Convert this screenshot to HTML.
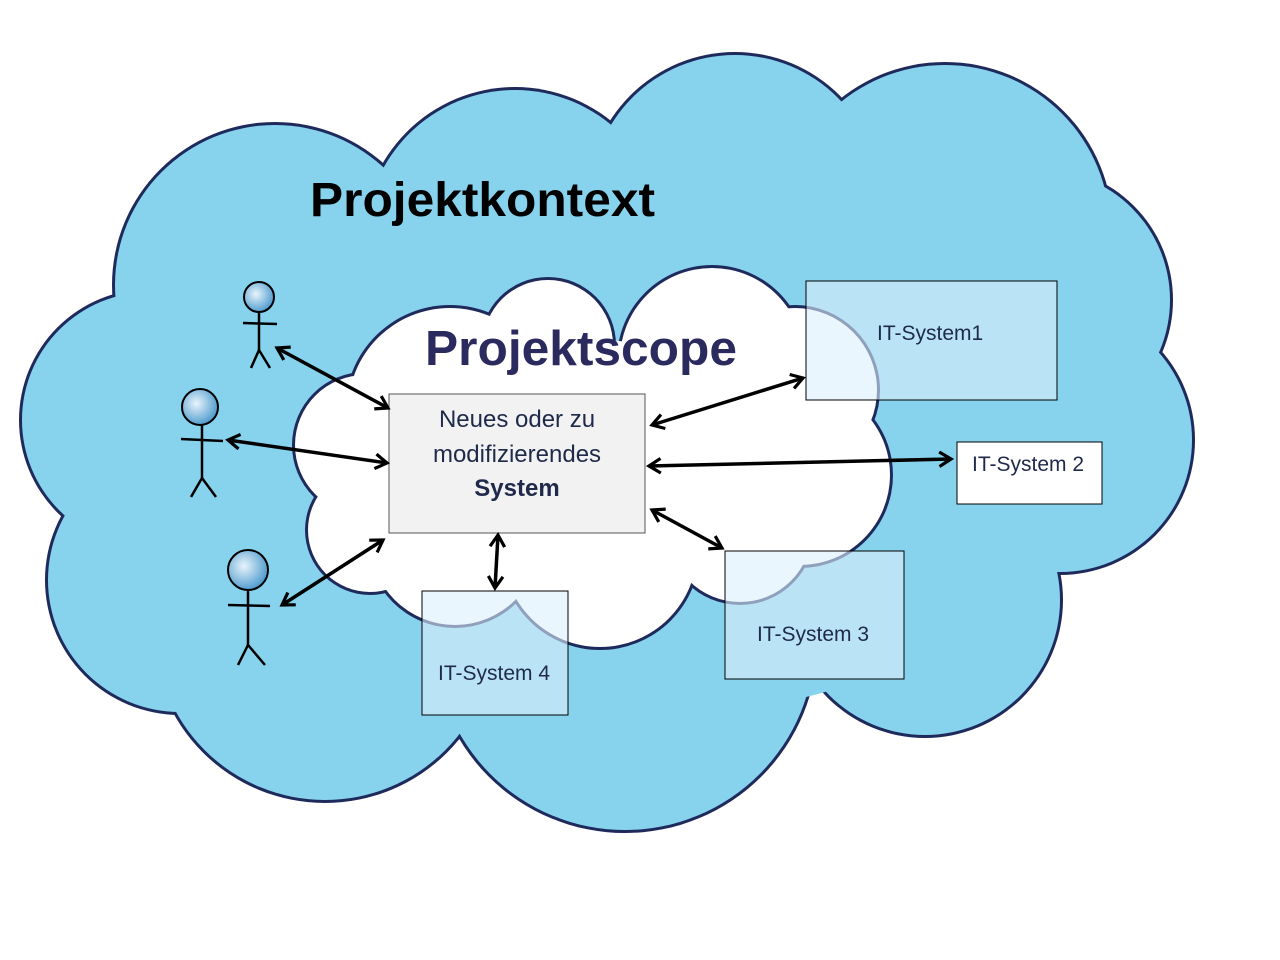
<!DOCTYPE html>
<html><head><meta charset="utf-8"><style>
html,body{margin:0;padding:0;background:#fff}
svg{display:block}
text{font-family:"Liberation Sans",sans-serif}
</style></head><body>
<svg width="1280" height="960" viewBox="0 0 1280 960" xmlns="http://www.w3.org/2000/svg">
<defs>
<marker id="ah" viewBox="0 0 12 12" refX="10" refY="6" markerWidth="5" markerHeight="5" orient="auto-start-reverse" markerUnits="strokeWidth">
<polyline points="2,1 10,6 2,11" fill="none" stroke="#000" stroke-width="2.2"/>
</marker>
<radialGradient id="hd" cx="0.4" cy="0.4" r="0.7"><stop offset="0" stop-color="#e8f4fb"/><stop offset="1" stop-color="#3a8fc8"/></radialGradient>
</defs>
<!-- outer cloud -->
<g fill="#1f2a5c">
<circle cx="275" cy="285" r="163"/><circle cx="515" cy="240" r="153"/><circle cx="735" cy="200" r="148"/>
<circle cx="945" cy="230" r="168"/><circle cx="1040" cy="300" r="133"/><circle cx="1060" cy="440" r="135"/>
<circle cx="925" cy="600" r="138"/><circle cx="625" cy="640" r="193"/><circle cx="325" cy="630" r="173"/>
<circle cx="180" cy="580" r="135"/><circle cx="150" cy="420" r="131"/>
</g>
<g fill="#87d3ee">
<circle cx="275" cy="285" r="160"/><circle cx="515" cy="240" r="150"/><circle cx="735" cy="200" r="145"/>
<circle cx="945" cy="230" r="165"/><circle cx="1040" cy="300" r="130"/><circle cx="1060" cy="440" r="132"/>
<circle cx="925" cy="600" r="135"/><circle cx="625" cy="640" r="190"/><circle cx="325" cy="630" r="170"/>
<circle cx="180" cy="580" r="132"/><circle cx="150" cy="420" r="128"/>
<ellipse cx="620" cy="440" rx="470" ry="280"/>
</g>
<!-- inner cloud -->
<g fill="#1f2a5c">
<circle cx="450" cy="410" r="105"/><circle cx="548" cy="345" r="68"/><circle cx="712" cy="360" r="95"/>
<circle cx="795" cy="390" r="85"/><circle cx="800" cy="475" r="93"/><circle cx="740" cy="530" r="75"/>
<circle cx="600" cy="550" r="100"/><circle cx="455" cy="540" r="88"/><circle cx="370" cy="530" r="65"/>
<circle cx="365" cy="445" r="73"/>
</g>
<g fill="#fff">
<circle cx="450" cy="410" r="102"/><circle cx="548" cy="345" r="65"/><circle cx="712" cy="360" r="92"/>
<circle cx="795" cy="390" r="82"/><circle cx="800" cy="475" r="90"/><circle cx="740" cy="530" r="72"/>
<circle cx="600" cy="550" r="97"/><circle cx="455" cy="540" r="85"/><circle cx="370" cy="530" r="62"/>
<circle cx="365" cy="445" r="70"/>
<ellipse cx="590" cy="460" rx="230" ry="120"/>
</g>
<text x="310" y="216" font-size="48" font-weight="bold" fill="#000" textLength="345" lengthAdjust="spacingAndGlyphs">Projektkontext</text>
<text x="425" y="365" font-size="49" font-weight="bold" fill="#2a2a5e" textLength="312" lengthAdjust="spacingAndGlyphs">Projektscope</text>
<!-- boxes -->
<rect x="389" y="394" width="256" height="139" fill="#f2f2f2" stroke="#555" stroke-width="1"/>
<g font-size="24" fill="#1f2a4a" text-anchor="middle">
<text x="517" y="427">Neues oder zu</text>
<text x="517" y="462">modifizierendes</text>
<text x="517" y="496" font-weight="bold">System</text>
</g>
<g fill="rgba(220,240,252,0.6)" stroke="#000" stroke-width="1">
<rect x="806" y="281" width="251" height="119"/>
<rect x="725" y="551" width="179" height="128"/>
<rect x="422" y="591" width="146" height="124"/>
</g>
<rect x="957" y="442" width="145" height="62" fill="#fff" stroke="#000" stroke-width="1"/>
<g font-size="21" fill="#1f2a4a">
<text x="877" y="340">IT-System1</text>
<text x="972" y="471">IT-System 2</text>
<text x="757" y="641">IT-System 3</text>
<text x="438" y="680">IT-System 4</text>
</g>
<!-- stick figures -->
<g stroke="#000" stroke-width="2.5" fill="none">
<line x1="259" y1="313" x2="259" y2="350"/><line x1="243" y1="323" x2="277" y2="324"/>
<polyline points="251,368 259,350 270,368"/>
<line x1="202" y1="425" x2="202" y2="478"/><line x1="181" y1="439" x2="223" y2="441"/>
<polyline points="191,497 202,478 216,497"/>
<line x1="248" y1="590" x2="248" y2="645"/><line x1="228" y1="605" x2="270" y2="606"/>
<polyline points="238,665 248,645 265,665"/>
</g>
<g stroke="#000" stroke-width="2">
<circle cx="259" cy="297" r="15" fill="url(#hd)"/>
<circle cx="200" cy="407" r="18" fill="url(#hd)"/>
<circle cx="248" cy="570" r="20" fill="url(#hd)"/>
</g>
<!-- arrows -->
<g stroke="#000" stroke-width="3.5" marker-start="url(#ah)" marker-end="url(#ah)">
<line x1="277" y1="348" x2="388" y2="408"/>
<line x1="228" y1="440" x2="387" y2="463"/>
<line x1="282" y1="605" x2="383" y2="540"/>
<line x1="498" y1="535" x2="495" y2="588"/>
<line x1="652" y1="425" x2="803" y2="378"/>
<line x1="649" y1="466" x2="951" y2="459"/>
<line x1="652" y1="510" x2="722" y2="548"/>
</g>
</svg>
</body></html>
